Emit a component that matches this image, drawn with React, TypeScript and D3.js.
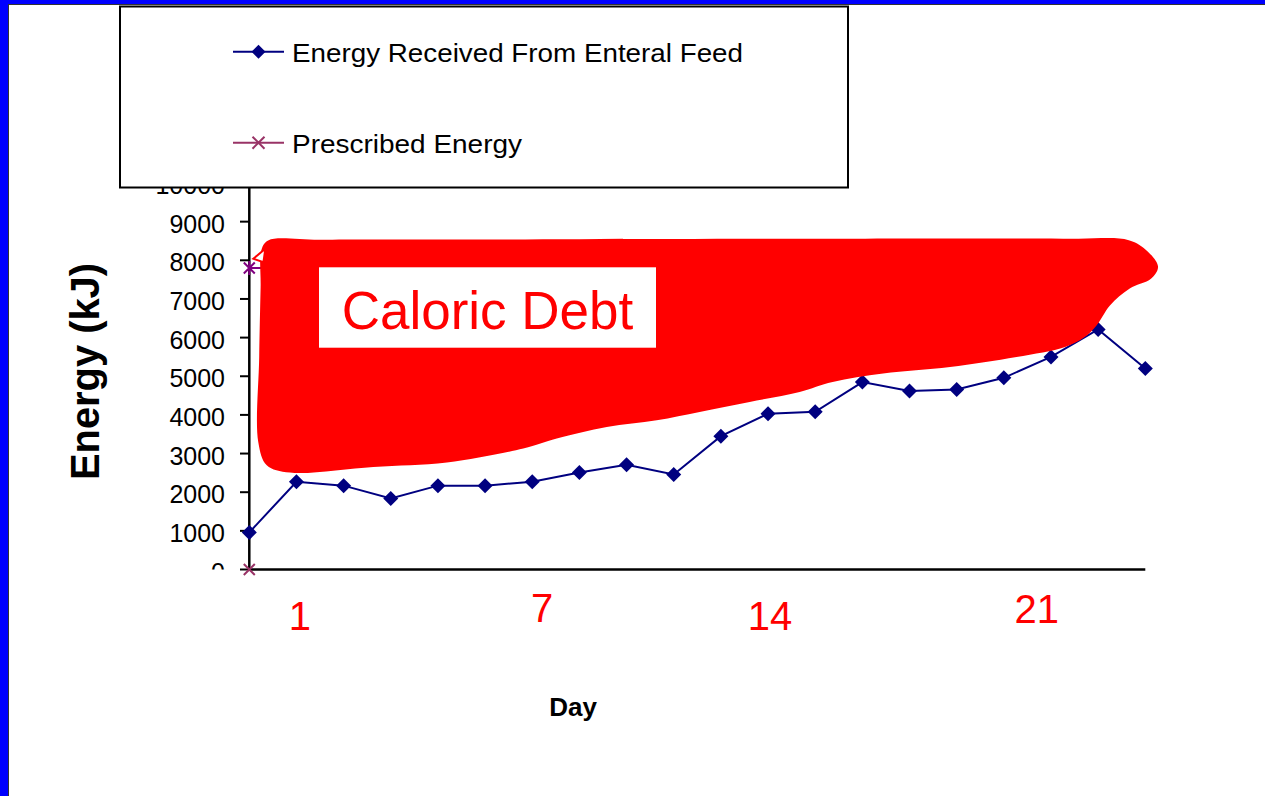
import * as d3 from 'd3';

const W = 1265;
const H = 796;

// days shown on the category axis (no labels on the axis itself)
const dayIndex = [0, 1, 2, 3, 4, 5, 6, 7, 8, 9, 10, 11, 12, 13, 14, 15, 16, 17, 18, 19];
const enteralFeed = [960, 2270, 2170, 1840, 2170, 2170, 2270, 2510, 2710, 2460, 3450, 4030, 4080, 4850, 4620, 4660, 4960, 5500, 6210, 5200];
const prescribed = [7800, 7800, 7800, 7800, 7800, 7800, 7800, 7800, 7800, 7800, 7800, 7800, 7800, 7800, 7800, 7800, 7800, 7800, 7800, 7800];
const prescribedStart = 0;
const yTicks = [0, 1000, 2000, 3000, 4000, 5000, 6000, 7000, 8000, 9000, 10000];

// red hand-placed day annotations under the axis
const dayLabels = ['1', '7', '14', '21'];
const dayLabelPos = [1.07, 6.21, 11.04, 16.7];
const dayLabelDrop = [60, 52, 60, 53];

// "caloric debt" shape, as [day, kJ]
const debtOutline: [number, number][] = [
  [0.26, 8280], [0.4, 8515], [1.5, 8530], [4, 8535], [7, 8545], [11, 8555], [15, 8565],
  [17.5, 8560], [18.65, 8520], [19.05, 8230], [19.27, 7830], [19.12, 7520], [18.67, 7270],
  [18.25, 6830], [17.97, 6320], [17.7, 6000], [17.3, 5760], [16.27, 5500], [14.86, 5240],
  [13.44, 5070], [12.37, 4850], [11.67, 4595], [10.61, 4335], [9.55, 4075],
  [8.64, 3860], [7.58, 3690], [6.52, 3390], [5.81, 3130], [4.19, 2770],
  [2.63, 2655], [0.86, 2510], [0.37, 2700], [0.19, 3300], [0.21, 5500], [0.24, 7300],
];
const debtSpike: [number, number][] = [[0.085, 8040], [0.34, 8300], [0.3, 7950]];

const font = "'Liberation Sans', Arial, sans-serif";

export default function App() {
  const x = d3.scaleLinear([0, 19], [249.3, 1145.3]);
  const y = d3.scaleLinear([0, 10000], [569.5, 183]);

  const line = d3.line<number>().x((_, i) => x(dayIndex[i])).y((d) => y(d));
  const blob = d3
    .line<[number, number]>()
    .x((d) => x(d[0]))
    .y((d) => y(d[1]))
    .curve(d3.curveCatmullRomClosed.alpha(0.5));
  const spike = d3
    .line<[number, number]>()
    .x((d) => x(d[0]))
    .y((d) => y(d[1]))
    .curve(d3.curveLinearClosed);

  const diamond = (cx: number, cy: number, r = 7.5) =>
    `M${cx},${cy - r}L${cx + r},${cy}L${cx},${cy + r}L${cx - r},${cy}Z`;
  const cross = (cx: number, cy: number, r = 5.5) =>
    `M${cx - r},${cy - r}L${cx + r},${cy + r}M${cx - r},${cy + r}L${cx + r},${cy - r}`;

  return (
    <svg
      width={W}
      height={H}
      style={{ position: 'absolute', left: 0, top: 0, background: '#fff' }}
      fontFamily={font}
    >
      <defs>
        <clipPath id='lab'>
          <rect x={0} y={0} width={W} height={569.5} />
        </clipPath>
      </defs>
      <rect width={W} height={H} fill='#fff' />
      <rect x={0} y={0} width={8} height={H} fill='#0000FF' />
      <rect x={0} y={0} width={W} height={4} fill='#0000FF' />
      <line x1={8.5} y1={4.5} x2={8.5} y2={H} stroke='#333' />
      <line x1={8} y1={4.5} x2={W} y2={4.5} stroke='#333' />

      {/* y axis */}
      <g clipPath='url(#lab)'>
        {yTicks.map((t) => (
          <text key={t} x={225} y={y(t) + 11} textAnchor='end' fontSize={25} fill='#000'>
            {t}
          </text>
        ))}
      </g>
      {yTicks.map((t) => (
        <line key={t} x1={240} x2={249.3} y1={y(t)} y2={y(t)} stroke='#000' strokeWidth={2} />
      ))}
      <line x1={249.3} x2={249.3} y1={y(10000)} y2={y(0)} stroke='#000' strokeWidth={2.5} />
      <line x1={248.3} x2={x(19)} y1={y(0)} y2={y(0)} stroke='#000' strokeWidth={2.5} />

      {/* prescribed energy */}
      <path d={line(prescribed) ?? ''} fill='none' stroke='#800080' strokeWidth={2} />
      <path
        d={cross(x(0), y(prescribed[0])) + `M${x(0)},${y(prescribed[0]) - 7}V${y(prescribed[0]) + 7}`}
        stroke='#800080'
        strokeWidth={2}
      />
      <path d={cross(x(0), y(prescribedStart))} stroke='#993366' strokeWidth={2} />

      {/* enteral feed */}
      <path d={line(enteralFeed) ?? ''} fill='none' stroke='#000080' strokeWidth={2} />
      {enteralFeed.map((v, i) => (
        <path key={i} d={diamond(x(dayIndex[i]), y(v))} fill='#000080' />
      ))}

      {/* caloric debt annotation */}
      <path d={blob(debtOutline) ?? ''} fill='#FF0000' />
      <path d={spike(debtSpike) ?? ''} fill='#fff' stroke='#FF0000' strokeWidth={2} />
      <rect x={319} y={267.3} width={337} height={80.4} fill='#fff' />
      <text x={487.5} y={329} textAnchor='middle' fontSize={53} fill='#FF0000'>
        Caloric Debt
      </text>

      {dayLabels.map((d, i) => (
        <text
          key={d}
          x={x(dayLabelPos[i])}
          y={y(0) + dayLabelDrop[i]}
          textAnchor='middle'
          fontSize={40}
          fill='#FF0000'
        >
          {d}
        </text>
      ))}

      <text x={573} y={716} textAnchor='middle' fontSize={26} fontWeight='bold' fill='#000'>
        Day
      </text>
      <text
        transform='translate(99,371.5) rotate(-90)'
        textAnchor='middle'
        fontSize={40}
        fontWeight='bold'
        textLength={217}
        lengthAdjust='spacingAndGlyphs'
        fill='#000'
      >
        Energy (kJ)
      </text>

      {/* legend */}
      <rect x={120} y={6.5} width={728} height={181} fill='#fff' stroke='#000' strokeWidth={2} />
      <line x1={233} x2={284} y1={51.7} y2={51.7} stroke='#000080' strokeWidth={2} />
      <path d={diamond(258.5, 51.7, 7)} fill='#000080' />
      <text x={292} y={62} fontSize={26} textLength={451} lengthAdjust='spacingAndGlyphs' fill='#000'>
        Energy Received From Enteral Feed
      </text>
      <line x1={233} x2={284} y1={142.7} y2={142.7} stroke='#993366' strokeWidth={2} />
      <path d={cross(258.5, 142.7, 6)} stroke='#993366' strokeWidth={2} />
      <text x={292} y={153} fontSize={26} textLength={230} lengthAdjust='spacingAndGlyphs' fill='#000'>
        Prescribed Energy
      </text>
    </svg>
  );
}
